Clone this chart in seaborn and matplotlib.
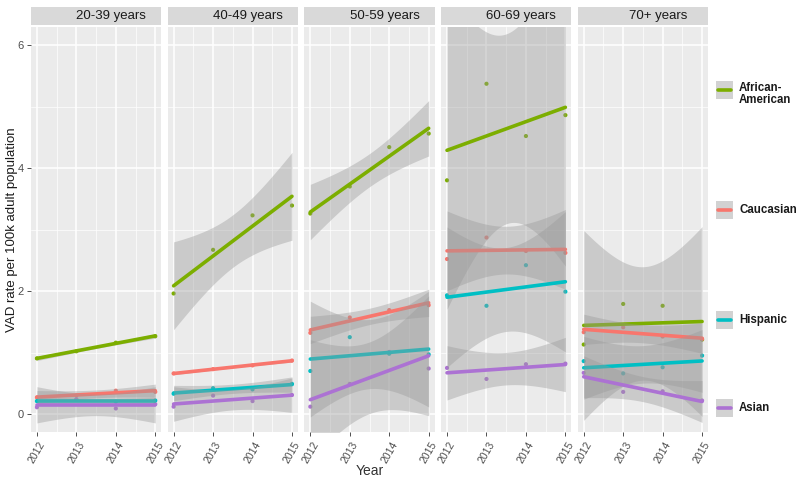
import numpy as np
import pandas as pd
import matplotlib.pyplot as plt
import seaborn as sns
from matplotlib.patches import Rectangle

# --- Data ---
years = [2012, 2013, 2014, 2015]
age_groups = ["20-39 years", "40-49 years", "50-59 years", "60-69 years", "70+ years"]
races = ["African-American", "Caucasian", "Hispanic", "Asian"]
legend_labels = ["African-\nAmerican", "Caucasian", "Hispanic", "Asian"]

# VAD rate per 100k adult population, one row per age group
african_american = [
    [0.905, 1.02, 1.16, 1.265],
    [1.96, 2.67, 3.23, 3.39],
    [3.26, 3.70, 4.34, 4.56],
    [3.80, 5.37, 4.52, 4.86],
    [1.13, 1.79, 1.76, 1.21],
]
caucasian = [
    [0.27, 0.30, 0.38, 0.36],
    [0.66, 0.73, 0.79, 0.87],
    [1.32, 1.57, 1.69, 1.77],
    [2.52, 2.87, 2.65, 2.62],
    [1.33, 1.41, 1.26, 1.22],
]
hispanic = [
    [0.21, 0.23, 0.20, 0.22],
    [0.33, 0.42, 0.40, 0.49],
    [0.70, 1.25, 0.98, 0.97],
    [1.93, 1.76, 2.42, 1.99],
    [0.86, 0.66, 0.76, 0.95],
]
asian = [
    [0.11, 0.24, 0.09, 0.16],
    [0.12, 0.30, 0.21, 0.31],
    [0.12, 0.49, 1.01, 0.74],
    [0.75, 0.57, 0.81, 0.82],
    [0.67, 0.36, 0.37, 0.22],
]

palette = {"African-American": "#7CAE00", "Caucasian": "#F8766D",
           "Hispanic": "#00BFC4", "Asian": "#AC72D3"}

rows = []
for race, table in zip(races, [african_american, caucasian, hispanic, asian]):
    for age, vals in zip(age_groups, table):
        for yr, v in zip(years, vals):
            rows.append({"age": age, "race": race, "year": yr, "rate": v})
df = pd.DataFrame(rows)

# --- Style ---
sns.set_theme(style="darkgrid", rc={
    "axes.facecolor": "#EBEBEB",
    "grid.color": "white",
    "axes.edgecolor": "#EBEBEB",
})
plt.rcParams["font.family"] = ["Liberation Sans", "DejaVu Sans"]

T_975 = 4.303  # qt(0.975, df=2)

fig, axes = plt.subplots(1, 5, figsize=(8, 4.83), dpi=100, sharey=True)
fig.subplots_adjust(left=31/800, right=708/800, bottom=0.1046, top=0.945, wspace=0.05)

for ax, age in zip(axes, age_groups):
    sub = df[df["age"] == age]
    sns.scatterplot(data=sub, x="year", y="rate", hue="race", palette=palette,
                    s=9, linewidth=0, legend=False, ax=ax, zorder=2)

    # linear fit + 95% CI band per race (like geom_smooth(method="lm"))
    for race in races:
        g = sub[sub["race"] == race]
        x = g["year"].to_numpy(float)
        y = g["rate"].to_numpy(float)
        xbar = x.mean()
        b, a = np.polyfit(x - xbar, y, 1)
        resid = y - (a + b * (x - xbar))
        s = np.sqrt((resid ** 2).sum() / (len(x) - 2))
        sxx = ((x - xbar) ** 2).sum()
        xs = np.linspace(x.min(), x.max(), 80)
        pred = a + b * (xs - xbar)
        half = T_975 * s * np.sqrt(1 / len(x) + (xs - xbar) ** 2 / sxx)
        ax.fill_between(xs, pred - half, pred + half, color="#999999",
                        alpha=0.4, linewidth=0, zorder=3)
        ax.plot(xs, pred, color=palette[race], lw=2.6, zorder=3)

    ax.set_xlim(2011.85, 2015.15)
    ax.set_ylim(-0.3, 6.3)
    ax.set_xticks(years)
    ax.set_xticks([2012.5, 2013.5, 2014.5], minor=True)
    ax.set_yticks([0, 2, 4, 6])
    ax.set_yticks([1, 3, 5], minor=True)
    ax.grid(which="major", color="white", lw=1.1)
    ax.grid(which="minor", color="white", lw=0.5)
    ax.set_xlabel("")
    ax.set_ylabel("")
    ax.tick_params(axis="x", which="major", labelrotation=60, labelsize=7.5,
                   labelcolor="#4D4D4D", bottom=True, length=3, width=0.6,
                   color="#333333", pad=2)
    ax.tick_params(axis="y", which="major", labelsize=8, labelcolor="#4D4D4D",
                   left=(ax is axes[0]), length=3, width=0.6, color="#333333", pad=2)
    ax.tick_params(which="minor", length=0)
    for lab in ax.get_xticklabels():
        lab.set_ha("center")
    for sp in ax.spines.values():
        sp.set_visible(False)

    # facet strip
    ax.add_patch(Rectangle((0, 1.004), 1, 0.044, transform=ax.transAxes,
                           facecolor="#D9D9D9", edgecolor="none", clip_on=False))
    ax.text(0.615, 1.026, age, transform=ax.transAxes, ha="center", va="center",
            fontsize=9.5, color="#1A1A1A")

fig.text(0.015, 0.525, "VAD rate per 100k adult population", rotation=90,
         ha="center", va="center", fontsize=9.5, color="#1A1A1A")
fig.text(369.5/800, 0.024, "Year", ha="center", va="center", fontsize=10,
         color="#333333")

# --- Legend (keys spread down the right side) ---
lax = fig.add_axes([0, 0, 1, 1])
lax.set_xlim(0, 800)
lax.set_ylim(483, 0)
lax.axis("off")
key_y = [89.5, 210, 320, 408]
text_y = [94, 210, 320, 408]
for race, lab, ky, ty in zip(races, legend_labels, key_y, text_y):
    lax.add_patch(Rectangle((716, ky - 9), 17, 18, facecolor="#D2D2D2", edgecolor="none"))
    lax.plot([718, 731], [ky, ky], color=palette[race], lw=2.6)
    lax.text(739, ty, lab, ha="left", va="center", fontsize=8.3, fontweight="bold",
             color="#1A1A1A", linespacing=1.1)

plt.savefig("out.png", dpi=100)
